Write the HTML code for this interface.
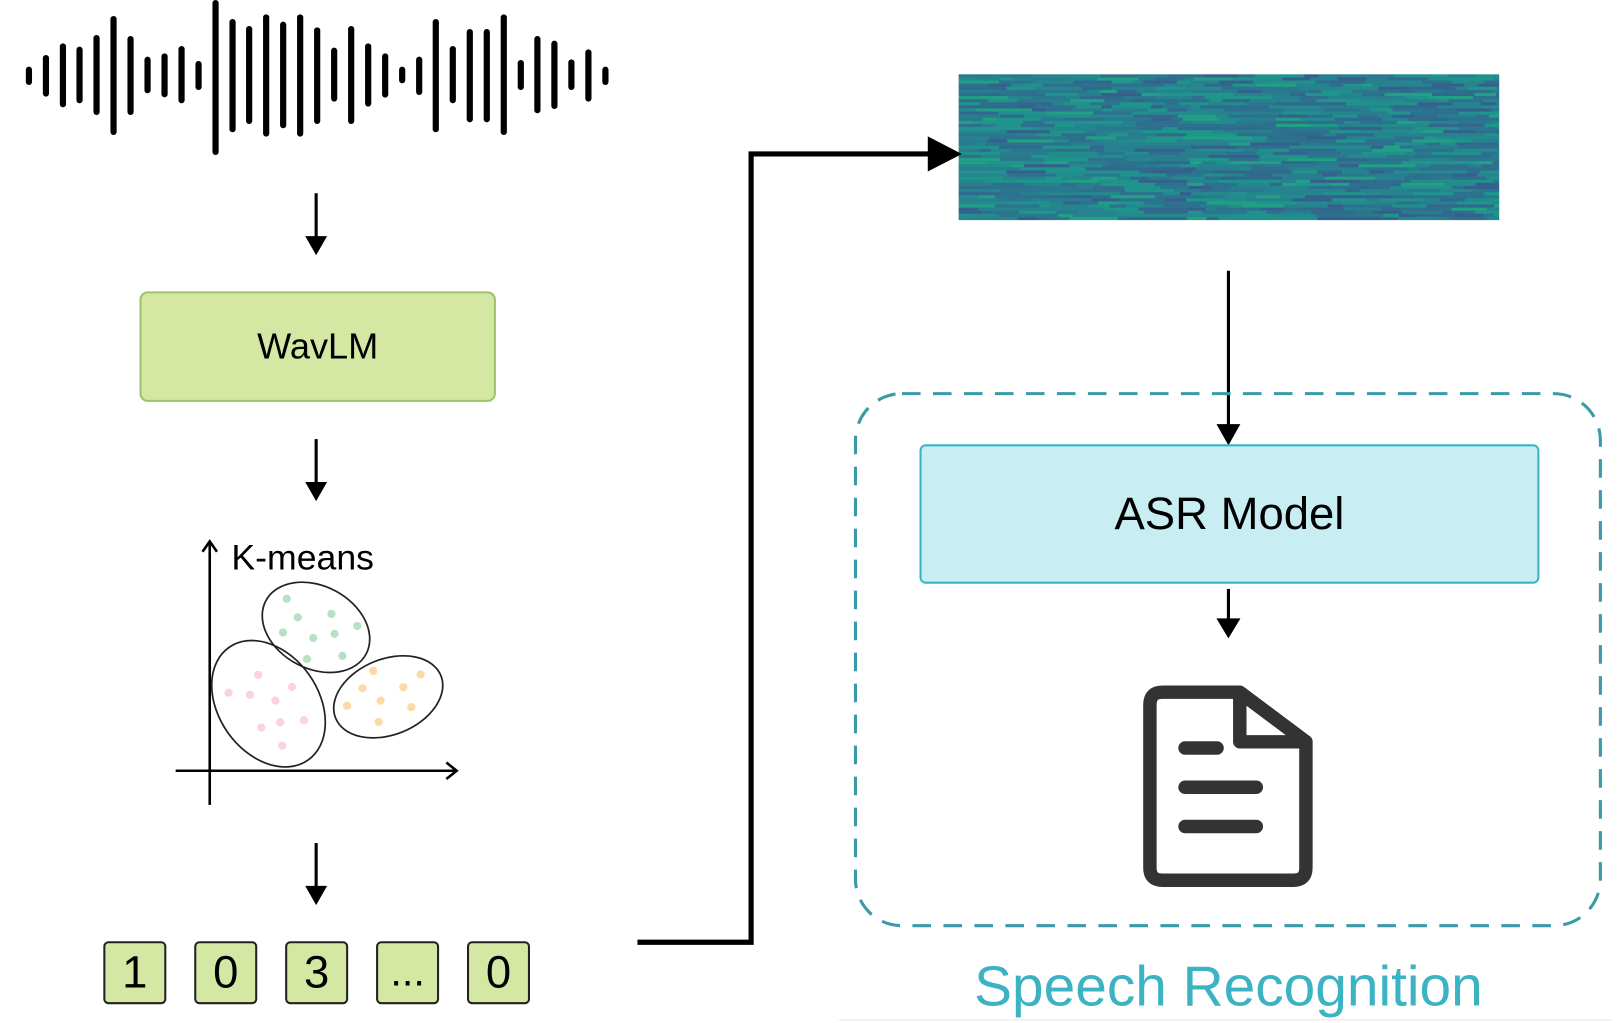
<!DOCTYPE html>
<html><head><meta charset="utf-8"><style>
html,body{margin:0;padding:0;background:#fff;}
body{width:1620px;height:1023px;position:relative;overflow:hidden;font-family:"Liberation Sans",Arial,sans-serif;}
#root{position:absolute;left:0;top:0;width:1568px;height:990px;transform:scale(1.03316);transform-origin:0 0;}
.box{position:absolute;box-sizing:border-box;display:flex;align-items:center;justify-content:center;}
</style></head><body><div id="root">
<svg width="1568" height="990" style="position:absolute;left:0;top:0">
<g id="wave" stroke="#000" stroke-width="6" stroke-linecap="round"></g>
<rect x="928" y="72" width="523" height="141" fill="#2a7f8e"/>
<g id="spec"></g>
<g stroke="#000" stroke-width="3" fill="#000">
<line x1="306" y1="187" x2="306" y2="232"/><path d="M298,230 L314,230 L306,244z"/>
<line x1="306" y1="425" x2="306" y2="470"/><path d="M298,468 L314,468 L306,482z"/>
<line x1="306" y1="816" x2="306" y2="861"/><path d="M298,859 L314,859 L306,873z"/>
<line x1="1189" y1="262" x2="1189" y2="415"/><path d="M1180,412 L1198,412 L1189,428z"/>
<line x1="1189" y1="570" x2="1189" y2="603"/><path d="M1180,600 L1198,600 L1189,615z"/>
</g>
<polyline points="617,912 727,912 727,149 905,149" fill="none" stroke="#000" stroke-width="5"/>
<path d="M898,132 L931,149 L898,166z" fill="#000"/>
<g stroke="#000" stroke-width="2.5" fill="none">
<line x1="203" y1="525" x2="203" y2="779"/><path d="M196,534 L203,524 L210,534"/>
<line x1="170" y1="746" x2="442" y2="746"/><path d="M432,738 L442,746 L432,754"/>
</g>
<text x="224" y="551" font-size="34.5" font-family="Liberation Sans">K-means</text>
<g transform="translate(150,489) scale(0.333)">
<g fill="none" stroke="#222" stroke-width="5">
<ellipse cx="468" cy="355" rx="165" ry="120" transform="rotate(28 468 355)"/>
<ellipse cx="330" cy="577" rx="145" ry="200" transform="rotate(-35 330 577)"/>
<ellipse cx="678" cy="557" rx="165" ry="110" transform="rotate(-22 678 557)"/>
</g>
<g fill="#b8e0c4"><circle cx="383" cy="272" r="12"/><circle cx="415" cy="326" r="12"/><circle cx="513" cy="316" r="12"/><circle cx="588" cy="351" r="12"/><circle cx="372" cy="370" r="12"/><circle cx="460" cy="386" r="12"/><circle cx="522" cy="374" r="12"/><circle cx="442" cy="447" r="12"/><circle cx="545" cy="438" r="12"/></g>
<g fill="#fcd3da"><circle cx="300" cy="493" r="12"/><circle cx="398" cy="528" r="12"/><circle cx="214" cy="545" r="12"/><circle cx="276" cy="551" r="12"/><circle cx="350" cy="568" r="12"/><circle cx="433" cy="625" r="12"/><circle cx="364" cy="631" r="12"/><circle cx="309" cy="646" r="12"/><circle cx="370" cy="699" r="12"/></g>
<g fill="#fdd9a6"><circle cx="634" cy="482" r="12"/><circle cx="772" cy="492" r="12"/><circle cx="603" cy="532" r="12"/><circle cx="722" cy="529" r="12"/><circle cx="656" cy="568" r="12"/><circle cx="558" cy="583" r="12"/><circle cx="745" cy="587" r="12"/><circle cx="650" cy="630" r="12"/></g>
</g>
<rect x="828" y="381" width="721" height="515" rx="45" fill="none" stroke="#3a9aaa" stroke-width="3" stroke-dasharray="18,12"/>
<g fill="none" stroke="#333" stroke-width="13" stroke-linejoin="round" stroke-linecap="round">
<path d="M1200,670 L1125,670 Q1113,670 1113,682 L1113,840 Q1113,852 1125,852 L1252,852 Q1264,852 1264,840 L1264,718 Z"/>
<path d="M1200,670 L1264,718 L1200,718 Z"/>
<line x1="1147" y1="724" x2="1178" y2="724"/>
<line x1="1147" y1="762" x2="1216" y2="762"/>
<line x1="1147" y1="800" x2="1216" y2="800"/>
</g>
<line x1="812" y1="987" x2="1560" y2="987" stroke="#eee" stroke-width="1.5"/>
</svg>
<div class="box" style="left:135px;top:282px;width:345px;height:107px;background:#d5e8a3;border:2px solid #9cc36a;border-radius:8px;font-size:35px;">WavLM</div>
<div class="box" style="left:890px;top:430px;width:600px;height:135px;background:#c8eef4;border:2px solid #38b3c8;border-radius:6px;font-size:44px;">ASR Model</div>
<div class="box" style="left:100px;top:911px;width:61px;height:61px;background:#d5e8a3;border:2px solid #222;border-radius:5px;font-size:44px;">1</div>
<div class="box" style="left:188px;top:911px;width:61px;height:61px;background:#d5e8a3;border:2px solid #222;border-radius:5px;font-size:44px;">0</div>
<div class="box" style="left:276px;top:911px;width:61px;height:61px;background:#d5e8a3;border:2px solid #222;border-radius:5px;font-size:44px;">3</div>
<div class="box" style="left:364px;top:911px;width:61px;height:61px;background:#d5e8a3;border:2px solid #222;border-radius:5px;font-size:40px;">...</div>
<div class="box" style="left:452px;top:911px;width:61px;height:61px;background:#d5e8a3;border:2px solid #222;border-radius:5px;font-size:44px;">0</div>
<div style="position:absolute;left:889px;top:922px;width:600px;text-align:center;font-size:55px;color:#3bb3c3;">Speech Recognition</div>
</div>
<script>
(function(){
var ns="http://www.w3.org/2000/svg";
var zx=[73,116,159,201,244,287,330,373,416,459,502,545,588,630,673,716,759,802,845,888,931,974,1017,1060,1102,1145,1188,1231,1274,1317,1359,1402,1445,1488,1531];
var zy=[[200,255],[165,290],[130,322],[140,310],[105,345],[48,405],[108,345],[170,280],[160,292],[138,310],[183,270],[0,465],[57,397],[78,372],[43,410],[65,385],[43,410],[82,372],[143,305],[78,372],[130,320],[160,293],[200,250],[170,285],[57,397],[138,310],[87,367],[87,367],[43,405],[180,270],[108,340],[122,327],[178,270],[148,305],[200,255]];
var w=document.getElementById('wave');
for(var i=0;i<zx.length;i++){var x=28+(zx[i]-73)*0.3827;var l=document.createElementNS(ns,'line');
l.setAttribute('x1',x);l.setAttribute('x2',x);l.setAttribute('y1',Math.max(3,zy[i][0]/3.1+3));l.setAttribute('y2',zy[i][1]/3.1-3);w.appendChild(l);}
var cols=['#2c728e','#2e6f8e','#287d8e','#21918c','#25858e','#35608d','#2a788e','#22a085','#31688e','#238a8d','#26828e','#1f968b'];
var s=document.getElementById('spec');var seed=7;function r(){seed=(seed*9301+49297)%233280;return seed/233280;}
for(var y=72;y<213;y+=3){var x=928;while(x<1451){var ww=10+Math.floor(r()*40);if(x+ww>1451)ww=1451-x;var rc=document.createElementNS(ns,'rect');
rc.setAttribute('x',x);rc.setAttribute('y',y);rc.setAttribute('width',ww);rc.setAttribute('height',3);rc.setAttribute('fill',cols[Math.floor(r()*cols.length)]);s.appendChild(rc);x+=ww;}}
})();
</script>
</body></html>
